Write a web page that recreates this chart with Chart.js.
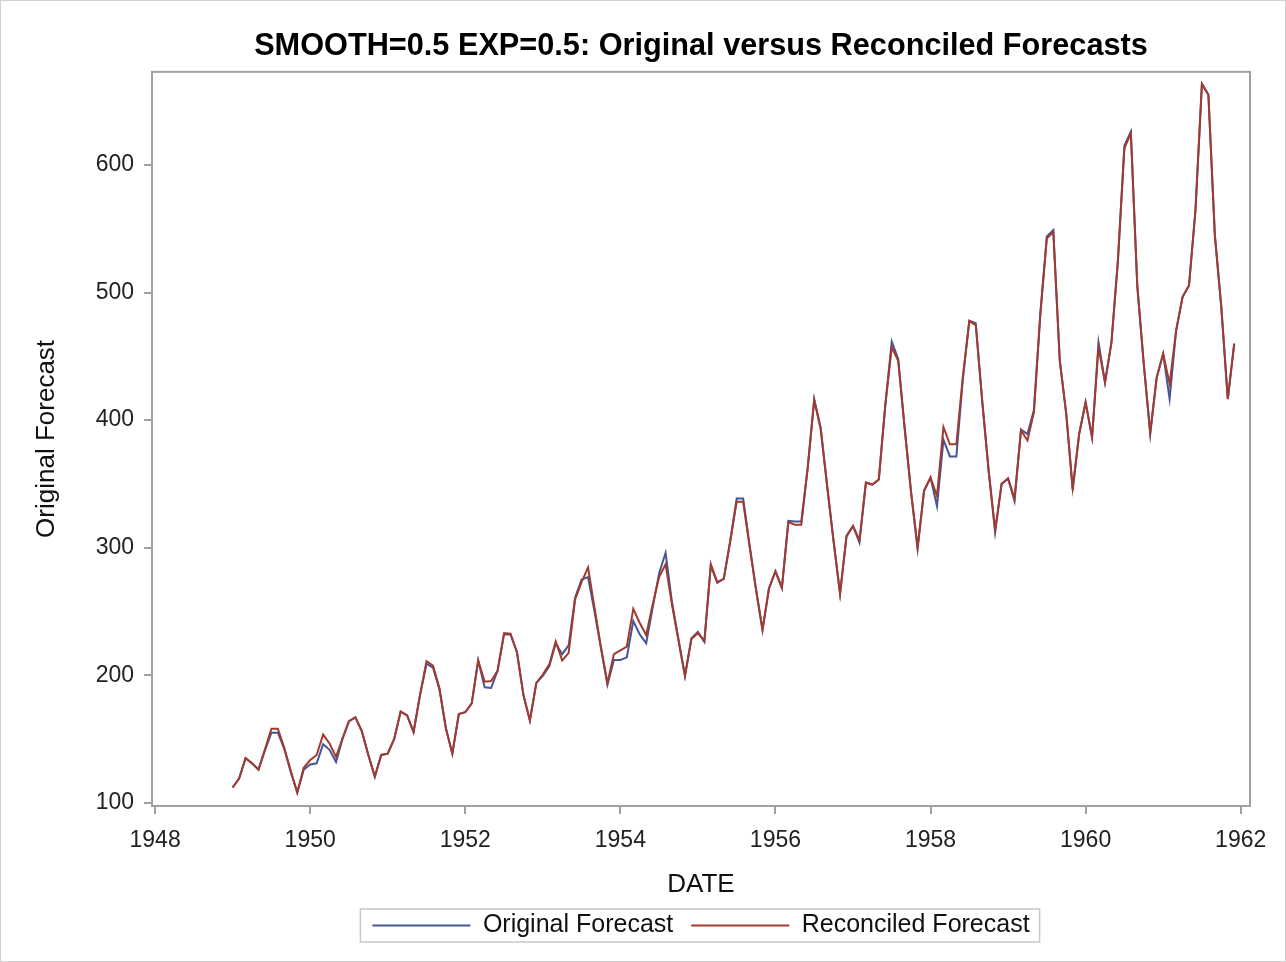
<!DOCTYPE html>
<html>
<head>
<meta charset="utf-8">
<script src="https://cdn.jsdelivr.net/npm/chart.js@4.4.0/dist/chart.umd.min.js"></script>
<style>
    html, body { margin: 0; padding: 0; background: #fff; }
    #wrap { width: 1286px; height: 962px; }
</style>
</head>
<body>
<div id="wrap"><canvas id="forecastChart" width="1286" height="962"></canvas></div>
<script>
// monthly series, Jan 1949 .. Dec 1961
const startYear = 1949;
const xTicks = [1948, 1950, 1952, 1954, 1956, 1958, 1960, 1962];
const yTicks = [100, 200, 300, 400, 500, 600];

const originalForecast = [
    112, 119, 135, 131, 126, 141, 155, 155, 142, 124, 108, 126,
    130, 131, 146, 141.5, 132, 150, 164, 167, 156, 137.5, 120.5, 137.5,
    138.5, 150, 171.5, 168.5, 155.5, 184.5, 209, 206, 189, 158.5, 138.5, 169.5,
    171, 178, 211.5, 190.5, 190, 203.5, 232, 232, 218, 184.5, 164.5, 194,
    199.5, 207, 225, 216.5, 223.5, 261, 275, 277, 250, 221, 192.5, 212,
    212, 214, 242.5, 232, 225, 253, 280, 296, 257, 228, 199.5, 229,
    234, 226, 286, 272.5, 275.5, 305, 338.5, 338.5, 302, 267, 235.5, 268,
    281.5, 268.5, 321, 320.5, 320.5, 363, 416.5, 394, 348.5, 305, 264, 309,
    317, 304, 351, 349.5, 353.5, 412, 461.5, 448, 393.5, 343, 299, 344.5,
    355, 332.5, 384.5, 371.5, 371.5, 432, 478, 476, 415, 360, 312, 350,
    354, 336.5, 392.5, 389, 408, 484, 544, 549, 447, 405, 345, 389,
    414, 386.5, 461, 429.5, 461, 525, 615, 626, 505, 444, 389, 433.5,
    452, 416.5, 470, 496.5, 505.5, 564.5, 663.5, 655, 545, 488.5, 416.5, 460
];

const reconciledForecast = [
    112, 119, 135, 131, 126, 142, 158, 158, 143, 125, 108, 127.5,
    133.5, 137.5, 153.5, 146.5, 136, 150.5, 164, 167, 156, 137.5, 120.5, 137.5,
    138.5, 150, 171.5, 168.5, 155.5, 184.5, 211, 207.5, 190, 158.5, 138.5, 169.5,
    171, 178, 211.5, 195, 195.5, 203.5, 233, 232.5, 218, 184.5, 164.5, 194,
    200.5, 208.5, 226.5, 211.5, 217.5, 259.5, 273, 284.5, 253, 222, 194, 216.5,
    219.5, 222.5, 252, 241, 231.5, 255.5, 277, 287, 255, 227, 199.5, 228.5,
    233, 227, 287, 273, 275.5, 305, 336, 336, 301, 267, 235.5, 268,
    281.5, 268.5, 320, 318, 318, 363, 415.5, 393, 348.5, 305, 264, 309,
    317, 306, 351, 349.5, 353.5, 411.5, 457, 446.5, 393.5, 343, 300.5, 344.5,
    355, 340.5, 394.5, 381, 381, 434, 477.5, 474.5, 415, 360, 314, 350,
    354.5, 338.5, 392, 384, 406, 483.5, 542.5, 547.5, 446.5, 405, 347, 389,
    414, 386.5, 457, 429.5, 461, 525, 613, 625, 505, 444, 390.5, 433.5,
    452, 428.5, 470, 496.5, 505.5, 564.5, 663.5, 655, 545, 488.5, 416.5, 460
];

const toPoints = (values) => values.map((v, i) => ({ x: startYear + i / 12, y: v }));

const frameColor = "#a0a0a0";
const fontFamily = "'Liberation Sans', Arial, sans-serif";

// light border round the whole image, frame round the plot, box round the legend
const framePlugin = {
    id: "frames",
    beforeDraw(chart) {
        const ctx = chart.ctx;
        ctx.save();
        ctx.fillStyle = "#fff";
        ctx.fillRect(0, 0, chart.width, chart.height);
        ctx.strokeStyle = "#d0d0d0";
        ctx.lineWidth = 1;
        ctx.strokeRect(0.5, 0.5, chart.width - 1, chart.height - 1);
        ctx.restore();
    },
    afterDraw(chart) {
        const ctx = chart.ctx;
        const a = chart.chartArea;
        ctx.save();
        ctx.strokeStyle = frameColor;
        ctx.lineWidth = 2;
        ctx.strokeRect(a.left, a.top, a.right - a.left, a.bottom - a.top);

        const boxes = chart.legend.legendHitBoxes;
        if (boxes && boxes.length) {
            const left = Math.min(...boxes.map((b) => b.left)) - 12;
            const right = Math.max(...boxes.map((b) => b.left + b.width)) + 10;
            const top = Math.min(...boxes.map((b) => b.top)) - 4;
            const bottom = Math.max(...boxes.map((b) => b.top + b.height)) + 4;
            ctx.strokeStyle = "#c8c8c8";
            ctx.lineWidth = 1.5;
            ctx.strokeRect(left, top, right - left, bottom - top);
        }
        ctx.restore();
    },
};

const ctx = document.getElementById("forecastChart").getContext("2d");

new Chart(ctx, {
    type: "line",
    data: {
        datasets: [
            {
                label: "Original Forecast",
                data: toPoints(originalForecast),
                borderColor: "#445694",
                backgroundColor: "#445694",
                borderWidth: 2,
                pointRadius: 0,
                tension: 0,
                order: 1,
            },
            {
                label: "Reconciled Forecast",
                data: toPoints(reconciledForecast),
                borderColor: "#a23a2e",
                backgroundColor: "#a23a2e",
                borderWidth: 2,
                pointRadius: 0,
                tension: 0,
                order: 0,
            },
        ],
    },
    options: {
        responsive: false,
        animation: false,
        layout: {
            padding: { left: 0, right: 36, top: 0, bottom: 14 },
        },
        scales: {
            x: {
                type: "linear",
                min: 1947.96,
                max: 1962.12,
                afterBuildTicks: (axis) => {
                    axis.ticks = xTicks.map((v) => ({ value: v }));
                },
                afterFit: (scale) => {
                    scale.height = 89;
                },
                grid: {
                    drawOnChartArea: false,
                    drawTicks: true,
                    tickLength: 8,
                    color: frameColor,
                    lineWidth: 2,
                },
                border: { display: true, color: frameColor, width: 2 },
                ticks: {
                    color: "#222",
                    padding: 13,
                    maxRotation: 0,
                    font: { family: fontFamily, size: 23 },
                    callback: (v) => String(v),
                },
                title: {
                    display: true,
                    text: "DATE",
                    color: "#111",
                    font: { family: fontFamily, size: 26 },
                    padding: { top: 8, bottom: -5 },
                },
            },
            y: {
                type: "linear",
                min: 97.5,
                max: 673,
                afterBuildTicks: (axis) => {
                    axis.ticks = yTicks.map((v) => ({ value: v }));
                },
                afterFit: (scale) => {
                    scale.width = 152;
                },
                grid: {
                    drawOnChartArea: false,
                    drawTicks: true,
                    tickLength: 8,
                    color: frameColor,
                    lineWidth: 2,
                },
                border: { display: true, color: frameColor, width: 2 },
                ticks: {
                    color: "#222",
                    padding: 10,
                    font: { family: fontFamily, size: 23 },
                },
                title: {
                    display: true,
                    text: "Original Forecast",
                    color: "#111",
                    font: { family: fontFamily, size: 26 },
                    padding: { top: 31, bottom: 10 },
                },
            },
        },
        plugins: {
            title: {
                display: true,
                fullSize: false,
                text: "SMOOTH=0.5 EXP=0.5: Original versus Reconciled Forecasts",
                color: "#000",
                font: { family: fontFamily, size: 30.7, weight: "bold" },
                padding: { top: 28, bottom: 7 },
            },
            legend: {
                display: true,
                position: "bottom",
                fullSize: false,
                labels: {
                    boxWidth: 98,
                    boxHeight: 2,
                    padding: 18,
                    color: "#111",
                    font: { family: fontFamily, size: 25 },
                    sort: (a, b) => a.datasetIndex - b.datasetIndex,
                    generateLabels: (chart) =>
                        Chart.defaults.plugins.legend.labels
                            .generateLabels(chart)
                            .map((item) => ({ ...item, lineWidth: 0 })),
                },
            },
            tooltip: { enabled: false },
        },
    },
    plugins: [framePlugin],
});
</script>
</body>
</html>
